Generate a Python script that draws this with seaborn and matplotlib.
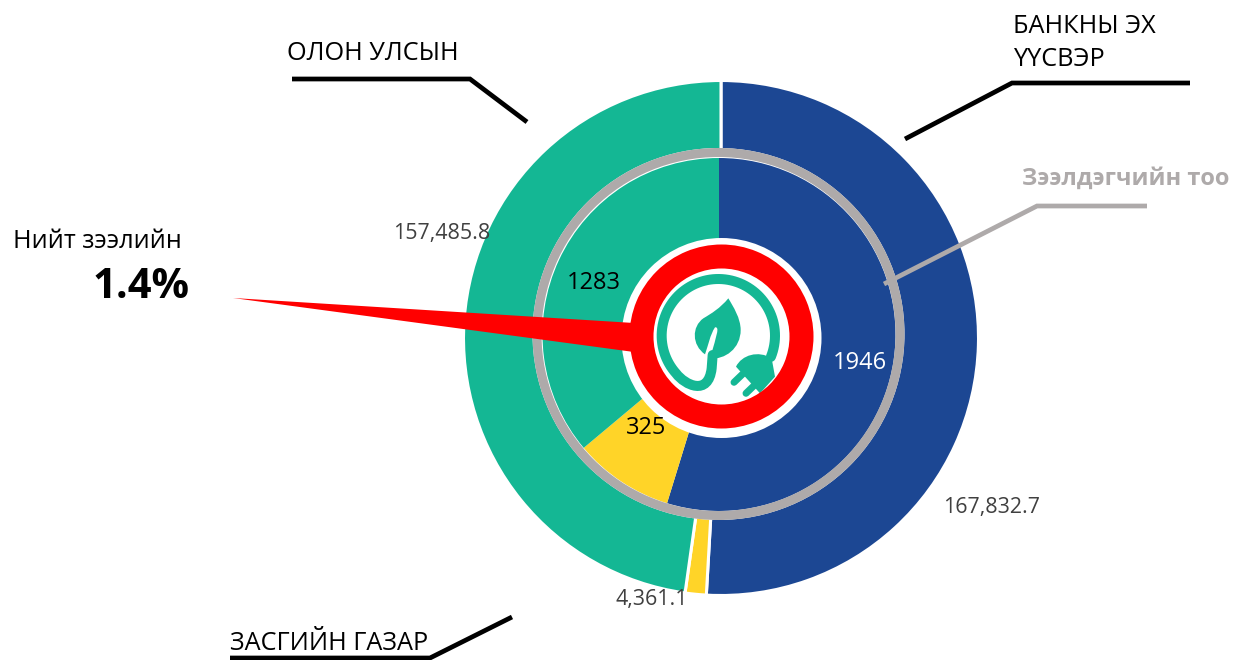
import numpy as np
import seaborn as sns
import matplotlib.pyplot as plt
from matplotlib.patches import Circle, PathPatch, Polygon
from matplotlib.path import Path

sns.set_theme(style='white')
plt.rcParams['font.family'] = ['Open Sans', 'DejaVu Sans']
plt.rcParams['lines.solid_capstyle'] = 'butt'

# values
groups = ['БАНКНЫ ЭХ\nҮҮСВЭР', 'ЗАСГИЙН ГАЗАР', 'ОЛОН УЛСЫН']
loan_amount = [167832.7, 4361.1, 157485.8]
borrowers = [1946, 325, 1283]
amount_labels = ['167,832.7', '4,361.1', '157,485.8']
share_label = '1.4%'
palette = sns.color_palette(['#1c4793', '#ffd428', '#14b794'])
GREEN = '#14b794'
GRAY = '#aeaaaa'

W, H = 1235, 660
fig = plt.figure(figsize=(W / 100, H / 100), dpi=100)
ax = fig.add_axes([0, 0, 1, 1])


def py(y):
    # picture y (down) to axes y (up)
    return H - y


def pts(xy):
    return [(x, py(y)) for x, y in xy]


# outer pie, its off-centre hole, inner pie
ax.pie(loan_amount, colors=palette, startangle=90, counterclock=False, center=(721, py(338)), radius=257.5,
       wedgeprops=dict(edgecolor='white', linewidth=2.2), frame=True)
ax.add_patch(Circle((718.5, py(334)), 186, fc='white', ec='none', zorder=1.5))
ax.pie(borrowers, colors=palette, startangle=90, counterclock=False, center=(719, py(334.5)), radius=176.5,
       wedgeprops=dict(edgecolor='none', zorder=2), frame=True)

ax.add_patch(Circle((718.5, py(334)), 181.5, fill=False, ec=GRAY, lw=6.5, zorder=3))

# leader lines
line_kw = dict(color='black', lw=3.4, solid_joinstyle='miter', zorder=2)
ax.plot(*zip(*pts([(292, 79), (470, 79), (527, 122)])), **line_kw)
ax.plot(*zip(*pts([(905, 139), (1012, 83), (1190, 83)])), **line_kw)
ax.plot(*zip(*pts([(230, 658), (430, 658), (512, 617)])), **line_kw)
ax.plot(*zip(*pts([(884, 284), (1037, 206), (1147, 206)])), color=GRAY, lw=3.4, solid_joinstyle='miter', zorder=4)

# centre hole, icon
ax.add_patch(Circle((721.5, py(338)), 100, fc='white', ec='none', zorder=5))


def zoom_xy(zx, zy):
    return 610 + zx / 3, py(220 + zy / 3)


def curve(codes_pts, **kw):
    verts, codes = [], []
    for code, p in codes_pts:
        verts.append(zoom_xy(*p))
        codes.append(code)
    ax.add_patch(PathPatch(Path(verts, codes), **kw))


M, L, C, Z = Path.MOVETO, Path.LINETO, Path.CURVE4, Path.CLOSEPOLY

# cord: big arc, then up into the leaf stem
t = np.radians(np.linspace(-22, 222, 80))
arc_x = 325 + 170 * np.cos(t)
arc_y = 347 - 170 * np.sin(t)
cord = [(M if i == 0 else L, (a, b)) for i, (a, b) in enumerate(zip(arc_x, arc_y))]
cord += [(C, (225, 495)), (C, (295, 530)), (C, (305, 445)),
         (L, (308, 405))]
curve(cord, fill=False, ec=GREEN, lw=7.2, capstyle='round', zorder=6)

# leaf
curve([(M, (355, 235)), (C, (330, 265)), (C, (305, 280)), (C, (280, 295)),
       (C, (245, 320)), (C, (245, 375)), (C, (285, 403)),
       (C, (295, 375)), (C, (300, 345)), (C, (315, 322)),
       (C, (330, 320)), (C, (320, 345)), (C, (300, 415)),
       (C, (345, 420)), (C, (392, 385)), (C, (392, 330)),
       (C, (392, 295)), (C, (370, 260)), (L, (355, 235))],
      fc=GREEN, ec='none', zorder=7)

# plug
curve([(M, (378, 440)), (C, (395, 405)), (C, (445, 390)), (C, (485, 415)),
       (L, (495, 470)), (L, (450, 520)), (Z, (378, 440))],
      fc=GREEN, ec='none', zorder=7)
ax.plot(*zip(*[zoom_xy(372, 487), zoom_xy(398, 462)]), color=GREEN, lw=5, solid_capstyle='round', zorder=7)
ax.plot(*zip(*[zoom_xy(408, 520), zoom_xy(434, 495)]), color=GREEN, lw=5, solid_capstyle='round', zorder=7)

# red ring and needle
ax.pie([1], colors=['#ff0000'], center=(721.5, py(336.5)), radius=92, wedgeprops=dict(width=24, edgecolor='none', zorder=8), frame=True)
ax.add_patch(Polygon(pts([(233, 298), (634, 323), (634, 352)]), fc='#ff0000', ec='none', zorder=8))
ax.set_xlim(0, W)
ax.set_ylim(0, H)
ax.set_aspect('equal')
ax.axis('off')

# text
def label(x, y, s, size, color='black', ha='left', **kw):
    ax.text(x, py(y), s, fontsize=size, color=color, ha=ha, va='center', zorder=10, **kw)


label(287, 53, groups[2], 18.2)
label(1013, 43, groups[0], 18.2, linespacing=1.45)
label(230, 643, groups[1], 18.2)
label(1022, 179, 'Зээлдэгчийн тоо', 17, color=GRAY, fontweight='bold')
label(13, 241, 'Нийт зээлийн', 18.2)
label(93, 287, share_label, 30, fontweight='bold')

label(393, 234, amount_labels[2], 15.4, color='#404040')
label(943, 507, amount_labels[0], 15.4, color='#404040')
label(615, 599, amount_labels[1], 15.4, color='#404040')

label(567, 283, str(borrowers[2]), 17)
label(833, 363, str(borrowers[0]), 17, color='white')
label(626, 428, str(borrowers[1]), 17)

fig.savefig('out.png', dpi=100)
